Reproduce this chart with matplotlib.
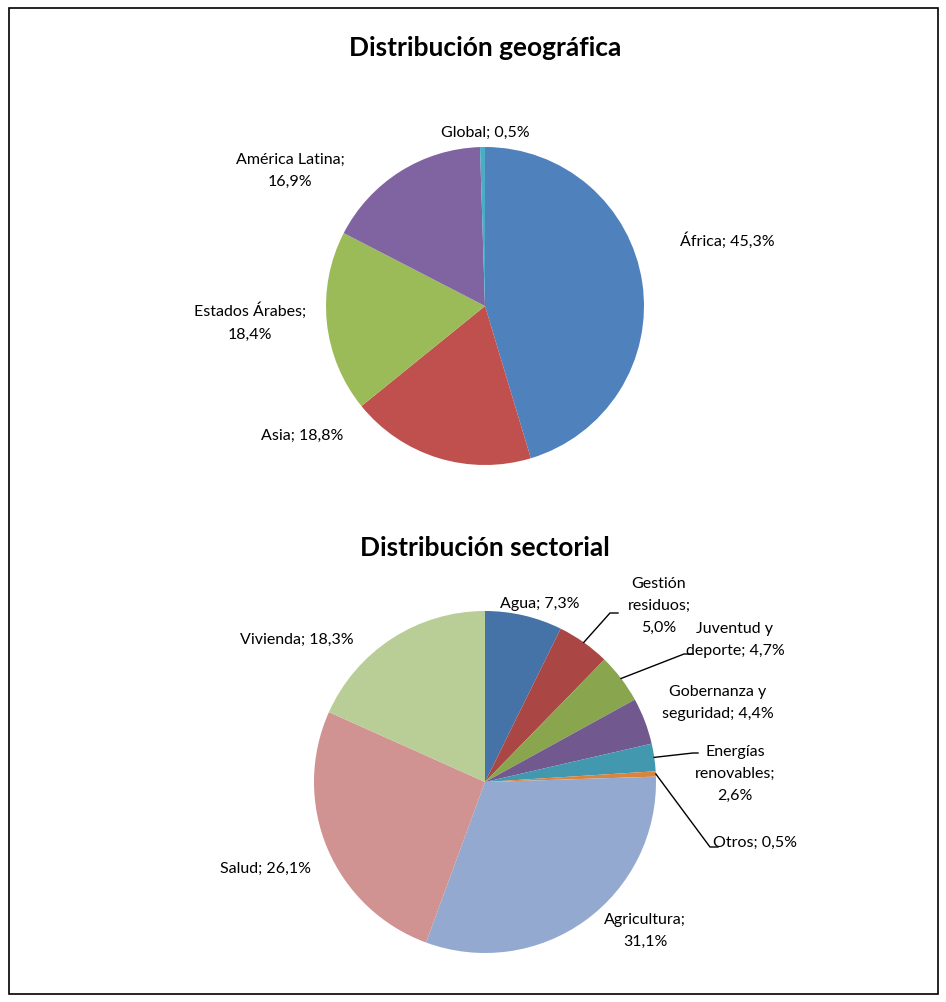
import matplotlib.pyplot as plt
import numpy as np
from matplotlib.patches import Rectangle

plt.rcParams['font.family'] = ['Lato', 'DejaVu Sans']

W, H = 946, 1002

# geographic distribution (clockwise from 12 o'clock)
geo_labels = ['África; 45,3%', 'Asia; 18,8%', 'Estados Árabes;\n18,4%',
              'América Latina;\n16,9%', 'Global; 0,5%']
geo_values = [45.3, 18.8, 18.4, 16.9, 0.5]
geo_colors = ['#4F81BD', '#C0504D', '#9BBB59', '#8064A2', '#4BACC6']

# sectorial distribution (clockwise from 12 o'clock)
sec_labels = ['Agua; 7,3%', 'Gestión\nresiduos;\n5,0%', 'Juventud y\ndeporte; 4,7%',
              'Gobernanza y\nseguridad; 4,4%', 'Energías\nrenovables;\n2,6%',
              'Otros; 0,5%', 'Agricultura;\n31,1%', 'Salud; 26,1%', 'Vivienda; 18,3%']
sec_values = [7.3, 5.0, 4.7, 4.4, 2.6, 0.5, 31.1, 26.1, 18.3]
sec_colors = ['#4572A7', '#AA4643', '#89A54E', '#71588F', '#4198AF',
              '#DB843D', '#93A9CF', '#D19392', '#B9CD96']

# layout in pixel coordinates (y measured from top)
geo_center, geo_r = (485, 306), 159
sec_center, sec_r = (485, 782), 171
geo_text_pos = [(727, 241), (302, 436), (250, 322), (290, 171), (485, 133)]
sec_text_pos = [(540, 604), (659, 606), (735, 640), (718, 703), (735, 774),
                (755, 843), (645, 931), (265, 869), (297, 640)]
# leader lines: elbow and end points for the small slices
sec_leaders = {1: [(610, 613), (618, 613)],
               2: [(684, 654), (693, 654)],
               4: [(693, 753), (698, 753)],
               5: [(710, 847), (718, 847)]}

fig = plt.figure(figsize=(W / 100, H / 100), dpi=100)
ax = fig.add_axes([0, 0, 1, 1])


def fy(y):
    return H - y


def draw_pie(values, colors, labels, center, r, text_pos, leaders=None):
    c = (center[0], fy(center[1]))
    wedges, _ = ax.pie(values, colors=colors, startangle=90, counterclock=False,
                       center=c, radius=r, wedgeprops=dict(linewidth=0))
    for i, (lab, pos) in enumerate(zip(labels, text_pos)):
        ax.text(pos[0], fy(pos[1]), lab, ha='center', va='center',
                fontsize=11.5, color='#000000', linespacing=1.75)
    if leaders:
        for i, pts in leaders.items():
            w = wedges[i]
            ang = np.deg2rad((w.theta1 + w.theta2) / 2)
            x0 = c[0] + r * np.cos(ang)
            y0 = c[1] + r * np.sin(ang)
            xs = [x0] + [p[0] for p in pts]
            ys = [y0] + [fy(p[1]) for p in pts]
            ax.plot(xs, ys, color='black', lw=1)


draw_pie(geo_values, geo_colors, geo_labels, geo_center, geo_r, geo_text_pos)
draw_pie(sec_values, sec_colors, sec_labels, sec_center, sec_r, sec_text_pos, sec_leaders)

ax.text(485, fy(48), 'Distribución geográfica', ha='center', va='center',
        fontsize=19, fontweight='bold')
ax.text(485, fy(548), 'Distribución sectorial', ha='center', va='center',
        fontsize=19, fontweight='bold')

ax.set_xlim(0, W)
ax.set_ylim(0, H)
ax.set_aspect('equal')
ax.axis('off')

fig.patches.append(Rectangle((9 / W, 1 - 994 / H), 929 / W, 986 / H,
                             transform=fig.transFigure, fill=False,
                             edgecolor='black', linewidth=1.2))

plt.savefig('out.png', dpi=100, facecolor='white')
